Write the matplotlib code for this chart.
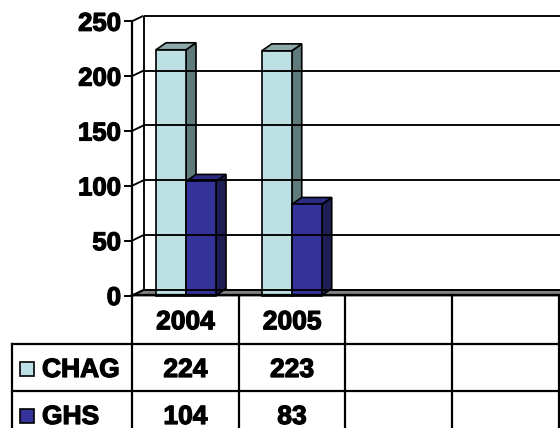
import matplotlib
matplotlib.use("Agg")
import matplotlib.pyplot as plt
import matplotlib.patheffects as pe
from matplotlib.patches import Polygon, Rectangle

# ---- data -------------------------------------------------------------
categories = ["2004", "2005", "", ""]
series_names = ["CHAG", "GHS"]
chag_values = [224, 223]
ghs_values = [104, 83]
y_ticks = [0, 50, 100, 150, 200, 250]

# (front, top, side) shades for each series
series_colors = {
    "CHAG": ("#BCE0E3", "#8DA9AB", "#5F7A7B"),
    "GHS": ("#333399", "#2B2B82", "#1E1E55"),
}

FONT = "Liberation Sans"
plt.rcParams["font.family"] = [FONT, "DejaVu Sans"]
heavy = [pe.withStroke(linewidth=0.9, foreground="black")]

W, H = 560, 428
fig = plt.figure(figsize=(W / 100, H / 100), dpi=100)
fig.patch.set_facecolor("white")

# ---- plot area: x in category units, y in value units ----------------
x0_px, cat_px = 132.0, 105.75       # left of category 0, width of one category
y0_px, unit_px = 295.5, 1.097       # baseline (from top) and pixels per value unit

ax = fig.add_axes([0, 0, 1, 1])
ax.set_xlim(-x0_px / cat_px, (W - x0_px) / cat_px)
ax.set_ylim(-(H - y0_px) / unit_px, y0_px / unit_px)
ax.axis("off")

def dx(px):
    return px / cat_px

def dy(px):
    return px / unit_px

x_right = ax.get_xlim()[1] + 0.1
wall_dx, wall_dy = dx(11.5), dy(5.5)
bar_dx, bar_dy = dx(10), dy(7)
ymax = y_ticks[-1]
line_kw = dict(color="black", lw=1.35, solid_capstyle="butt")

# back wall gridlines
for v in y_ticks:
    ax.plot([wall_dx, x_right], [v + wall_dy, v + wall_dy], **line_kw)

# left wall: front axis, back edge, diagonals and ticks
ax.plot([0, 0], [0, ymax], color="black", lw=1.6)
ax.plot([wall_dx, wall_dx], [wall_dy, ymax + wall_dy], **line_kw)
for v in y_ticks:
    ax.plot([0, wall_dx], [v, v + wall_dy], **line_kw)
    ax.plot([-dx(7), 0], [v, v], color="black", lw=1.4)
    ax.text(-dx(11), v, str(v), ha="right", va="center_baseline",
            fontsize=18.5, fontweight="bold", color="black", path_effects=heavy)

# floor
floor = Polygon([(0, 0), (wall_dx, wall_dy), (x_right, wall_dy), (x_right, 0)],
                closed=True, facecolor="#808080", edgecolor="black", lw=1.2)
ax.add_patch(floor)

# 3D columns
bar_w = dx(30)
pair_left = dx(24)
for i, vals in enumerate(zip(chag_values, ghs_values)):
    for j, (name, v) in enumerate(zip(series_names, vals)):
        front_c, top_c, side_c = series_colors[name]
        x = i + pair_left + j * bar_w
        side = Polygon([(x + bar_w, 0), (x + bar_w + bar_dx, bar_dy),
                        (x + bar_w + bar_dx, v + bar_dy), (x + bar_w, v)],
                       closed=True, facecolor=side_c, edgecolor="black", lw=1.2)
        top = Polygon([(x, v), (x + bar_dx, v + bar_dy),
                       (x + bar_w + bar_dx, v + bar_dy), (x + bar_w, v)],
                      closed=True, facecolor=top_c, edgecolor="black", lw=1.2)
        front = Rectangle((x, 0), bar_w, v, facecolor=front_c,
                          edgecolor="black", lw=1.2)
        for p in (side, top, front):
            ax.add_patch(p)

# ---- data table -------------------------------------------------------
col_px = 106.7
row_edges_px = [295.0, 343.5, 390.5, 437.5]   # header, CHAG, GHS rows

tab = fig.add_axes([0, 0, 1, 1])
tab.set_xlim(-x0_px / col_px, (W - x0_px) / col_px)
tab.set_ylim(H, 0)
tab.axis("off")
tab.patch.set_visible(False)

n_cols = len(categories)
label_left = (12 - x0_px) / col_px
tbl_kw = dict(color="black", lw=1.6, solid_capstyle="projecting")

# horizontal rules
tab.plot([0, n_cols], [row_edges_px[0]] * 2, **tbl_kw)
for yr in row_edges_px[1:]:
    tab.plot([label_left, n_cols], [yr, yr], **tbl_kw)
# vertical rules
for c in range(n_cols + 1):
    tab.plot([c, c], [row_edges_px[0], row_edges_px[-1]], **tbl_kw)
tab.plot([label_left, label_left], [row_edges_px[1], row_edges_px[-1]], **tbl_kw)

txt_kw = dict(fontsize=19, fontweight="bold", color="black", va="baseline",
              path_effects=heavy)

def baseline(r):
    return (row_edges_px[r] + row_edges_px[r + 1]) / 2 + 10

for c, name in enumerate(categories):
    tab.text(c + 0.5, baseline(0), name, ha="center", **txt_kw)

rows = [chag_values, ghs_values]
for r, (name, vals) in enumerate(zip(series_names, rows), start=1):
    yc = (row_edges_px[r] + row_edges_px[r + 1]) / 2
    key_size = 14
    tab.add_patch(Rectangle(((20 - x0_px) / col_px, yc - key_size / 2 + 2),
                            key_size / col_px, key_size,
                            facecolor=series_colors[name][0],
                            edgecolor="black", lw=1.2))
    tab.text((42 - x0_px) / col_px, baseline(r), name, ha="left", **txt_kw)
    for c, v in enumerate(vals):
        tab.text(c + 0.5, baseline(r), str(v), ha="center", **txt_kw)

fig.savefig("out.png", dpi=100, facecolor="white")
